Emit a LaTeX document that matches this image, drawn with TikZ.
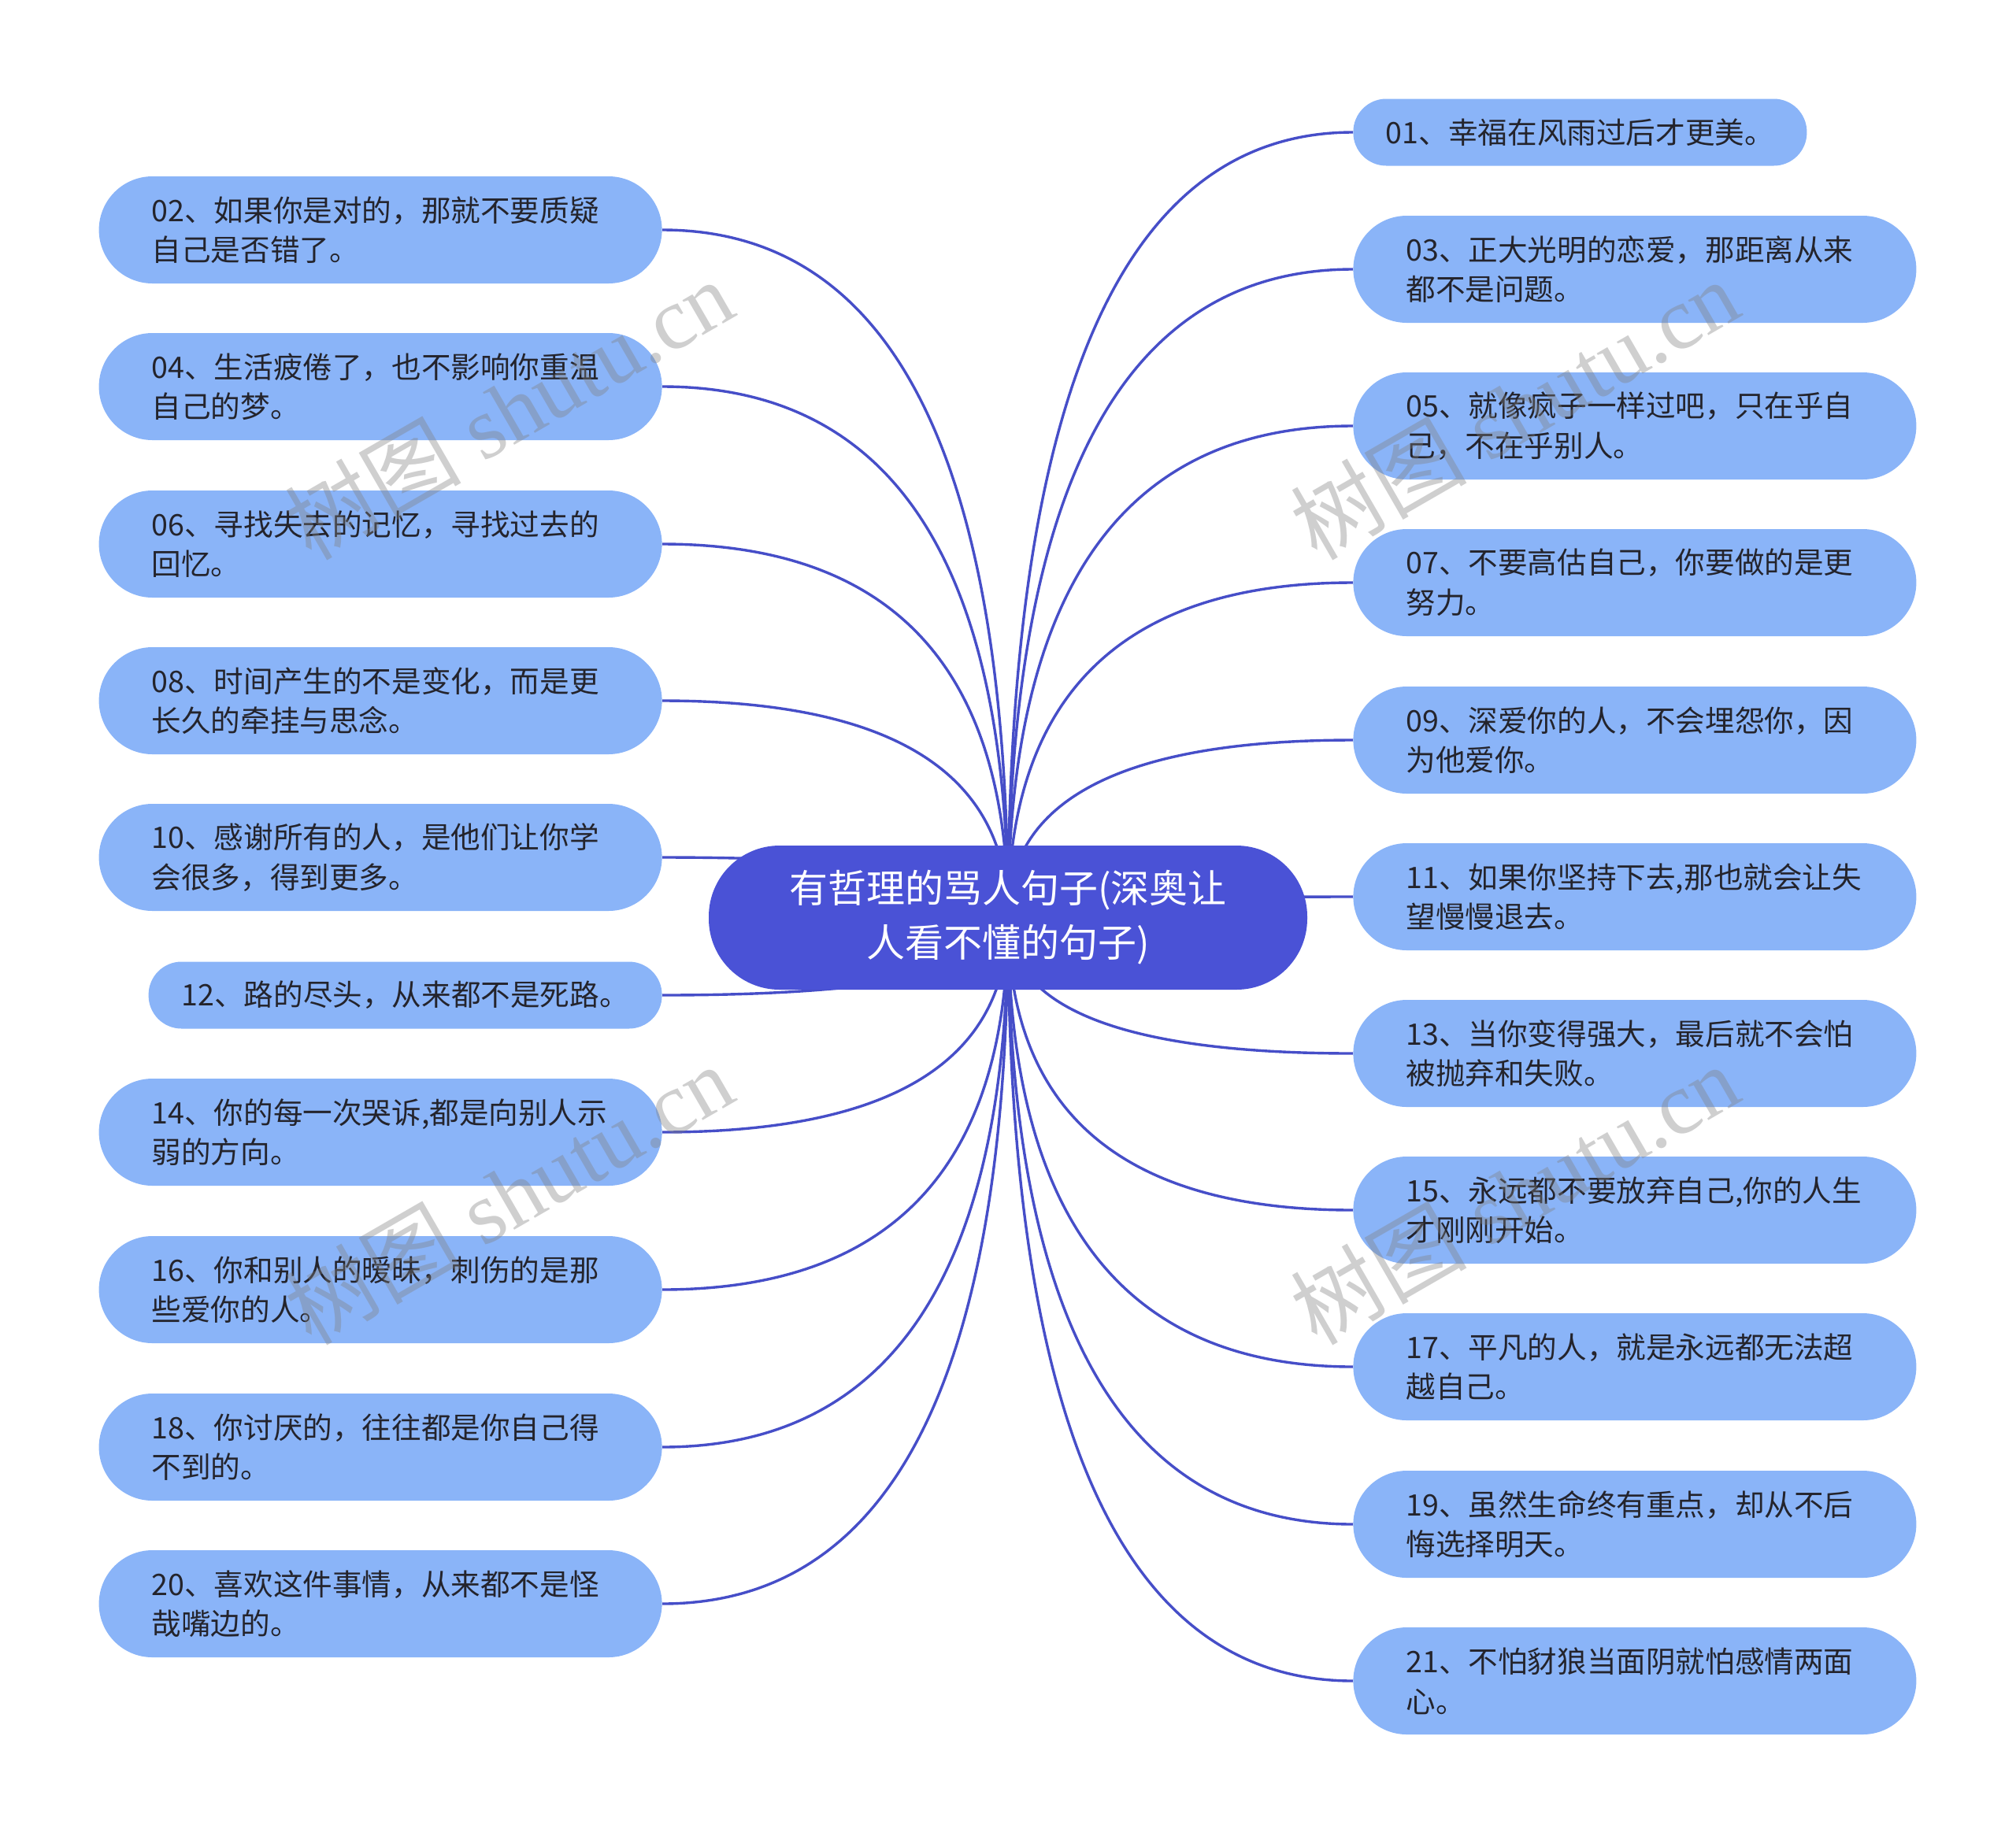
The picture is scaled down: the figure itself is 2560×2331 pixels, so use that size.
\documentclass[tikz,border=0pt]{standalone}
\usepackage{fontspec}
\setmainfont{Noto Sans CJK SC}
\newfontfamily\wmlatin{Liberation Serif}
\newfontfamily\wmcjk{Noto Sans CJK SC}
\usetikzlibrary{calc,backgrounds}
\definecolor{rootfill}{RGB}{74,82,214}
\definecolor{leaffill}{RGB}{138,180,248}
\definecolor{edgecol}{RGB}{70,78,200}
\definecolor{leaftext}{RGB}{36,36,44}
\tikzset{
  rootbox/.style={draw=none, fill=rootfill, text=white, rounded corners=45pt,
    minimum width=380pt, minimum height=91.5pt, align=center, inner sep=0pt,
    font=\fontsize{24.5pt}{34.5pt}\selectfont},
  twoline/.style={draw=none, fill=leaffill, text=leaftext, rounded corners=34pt,
    minimum height=68pt, text width=290.5pt, inner xsep=33.5pt, inner ysep=0pt,
    align=left, font=\fontsize{18.8pt}{25.3pt}\selectfont},
  oneline/.style={draw=none, fill=leaffill, text=leaftext, rounded corners=21pt,
    minimum height=42.5pt, inner sep=0pt,
    font=\fontsize{18.8pt}{25.3pt}\selectfont},
  edge/.style={draw=edgecol, line width=1.7pt},
  wm/.style={text=gray, opacity=0.38, rotate=30, inner sep=0pt}
}
\begin{document}
\begin{tikzpicture}[x=0.5pt,y=-0.5pt]
\useasboundingbox (0,0) rectangle (2560,2331);
\node[rootbox] (root) at (1280,1165.5) {有哲理的骂人句子(深奥让\\人看不懂的句子)};
% right side
\node[oneline, anchor=west, minimum width=288pt] (n01) at (1718,168) {01、幸福在风雨过后才更美。};
\node[twoline, anchor=west] (n03) at (1718,342) {03、正大光明的恋爱，那距离从来\\都不是问题。};
\node[twoline, anchor=west] (n05) at (1718,541) {05、就像疯子一样过吧，只在乎自\\己，不在乎别人。};
\node[twoline, anchor=west] (n07) at (1718,740) {07、不要高估自己，你要做的是更\\努力。};
\node[twoline, anchor=west] (n09) at (1718,940) {09、深爱你的人，不会埋怨你，因\\为他爱你。};
\node[twoline, anchor=west] (n11) at (1718,1139) {11、如果你坚持下去,那也就会让失\\望慢慢退去。};
\node[twoline, anchor=west] (n13) at (1718,1338) {13、当你变得强大，最后就不会怕\\被抛弃和失败。};
\node[twoline, anchor=west] (n15) at (1718,1537) {15、永远都不要放弃自己,你的人生\\才刚刚开始。};
\node[twoline, anchor=west] (n17) at (1718,1736) {17、平凡的人，就是永远都无法超\\越自己。};
\node[twoline, anchor=west] (n19) at (1718,1936) {19、虽然生命终有重点，却从不后\\悔选择明天。};
\node[twoline, anchor=west] (n21) at (1718,2135) {21、不怕豺狼当面阴就怕感情两面\\心。};
% left side
\node[twoline, anchor=east] (n02) at (841,292) {02、如果你是对的，那就不要质疑\\自己是否错了。};
\node[twoline, anchor=east] (n04) at (841,491) {04、生活疲倦了，也不影响你重温\\自己的梦。};
\node[twoline, anchor=east] (n06) at (841,691) {06、寻找失去的记忆，寻找过去的\\回忆。};
\node[twoline, anchor=east] (n08) at (841,890) {08、时间产生的不是变化，而是更\\长久的牵挂与思念。};
\node[twoline, anchor=east] (n10) at (841,1089) {10、感谢所有的人，是他们让你学\\会很多，得到更多。};
\node[oneline, anchor=east, minimum width=326pt] (n12) at (841,1264) {12、路的尽头，从来都不是死路。};
\node[twoline, anchor=east] (n14) at (841,1438) {14、你的每一次哭诉,都是向别人示\\弱的方向。};
\node[twoline, anchor=east] (n16) at (841,1638) {16、你和别人的暧昧，刺伤的是那\\些爱你的人。};
\node[twoline, anchor=east] (n18) at (841,1838) {18、你讨厌的，往往都是你自己得\\不到的。};
\node[twoline, anchor=east] (n20) at (841,2037) {20、喜欢这件事情，从来都不是怪\\哉嘴边的。};
% connectors
\begin{scope}[on background layer]
\foreach \n/\a in {n01/west,n03/west,n05/west,n07/west,n09/west,n11/west,n13/west,n15/west,n17/west,n19/west,n21/west,
                   n02/east,n04/east,n06/east,n08/east,n10/east,n12/east,n14/east,n16/east,n18/east,n20/east}{
  \draw[edge] (root.center) .. controls ($(root.center)!0.6667!(root.center |- \n.\a)$)
     and ($(\n.\a)!0.6667!(root.center |- \n.\a)$) .. (\n.\a);
}
\end{scope}
% watermarks
\node[wm] (w1) at (646,520) {\fontsize{56pt}{62pt}\selectfont\wmcjk 树图\wmlatin{} shutu.cn};
\node[wm] (w2) at (1923,520) {\fontsize{56pt}{62pt}\selectfont\wmcjk 树图\wmlatin{} shutu.cn};
\node[wm] (w3) at (646,1517) {\fontsize{56pt}{62pt}\selectfont\wmcjk 树图\wmlatin{} shutu.cn};
\node[wm] (w4) at (1923,1517) {\fontsize{56pt}{62pt}\selectfont\wmcjk 树图\wmlatin{} shutu.cn};
\end{tikzpicture}
\end{document}
